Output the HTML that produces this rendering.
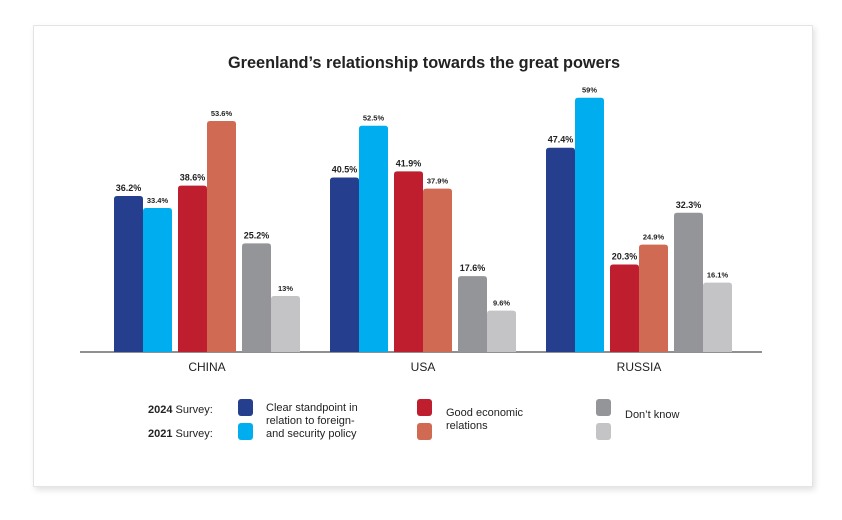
<!DOCTYPE html>
<html><head><meta charset="utf-8"><style>
body{margin:0;background:#fff;width:842px;height:520px;overflow:hidden;font-family:"Liberation Sans",sans-serif}
#card{position:absolute;left:33px;top:25px;width:778px;height:460px;background:#fff;border:1px solid #e4e4e4;box-shadow:2px 3px 6px rgba(0,0,0,0.12)}
</style></head><body>
<div id="card"></div>
<svg id="chart" width="842" height="520" style="position:absolute;left:0;top:0">
<text x="424" y="68" text-anchor="middle" font-size="16.3" font-weight="bold" fill="#222">Greenland’s relationship towards the great powers</text>
<line x1="80" y1="352" x2="762" y2="352" stroke="#222" stroke-width="1"/>
<g id="bars"></g>
<g font-size="11" fill="#222">
<text x="148" y="413"><tspan font-weight="bold">2024</tspan> Survey:</text>
<text x="148" y="437"><tspan font-weight="bold">2021</tspan> Survey:</text>
<rect x="238" y="399" width="15" height="17" rx="3" fill="#253f8e"/>
<rect x="238" y="423" width="15" height="17" rx="3" fill="#00aeef"/>
<text x="266" y="411">Clear standpoint in</text>
<text x="266" y="424">relation to foreign-</text>
<text x="266" y="437">and security policy</text>
<rect x="417" y="399" width="15" height="17" rx="3" fill="#be1e2d"/>
<rect x="417" y="423" width="15" height="17" rx="3" fill="#d06a52"/>
<text x="446" y="416">Good economic</text>
<text x="446" y="429">relations</text>
<rect x="596" y="399" width="15" height="17" rx="3" fill="#939598"/>
<rect x="596" y="423" width="15" height="17" rx="3" fill="#c4c4c6"/>
<text x="625" y="418">Don’t know</text>
</g>
</svg>
<script>
const categories=["CHINA","USA","RUSSIA"];
const clear2024=[36.2,40.5,47.4];
const clear2021=[33.4,52.5,59];
const econ2024=[38.6,41.9,20.3];
const econ2021=[53.6,37.9,24.9];
const dk2024=[25.2,17.6,32.3];
const dk2021=[13,9.6,16.1];
const series=[
 {name:"clear-2024",vals:clear2024,color:"#253f8e",big:true},
 {name:"clear-2021",vals:clear2021,color:"#00aeef",big:false},
 {name:"econ-2024",vals:econ2024,color:"#be1e2d",big:true},
 {name:"econ-2021",vals:econ2021,color:"#d06a52",big:false},
 {name:"dk-2024",vals:dk2024,color:"#939598",big:true},
 {name:"dk-2021",vals:dk2021,color:"#c4c4c6",big:false}];
const base=352,scale=4.31,bw=29;
function y(v){return base-v*scale;}
function groupX(i){return 114+i*216;}
function barX(s){return Math.floor(s/2)*64+(s%2)*29;}
const ns="http://www.w3.org/2000/svg",g=document.getElementById("bars");
function fmt(v){return v+"%";}
categories.forEach((c,i)=>{
 series.forEach((s,k)=>{
  const v=s.vals[i],x=groupX(i)+barX(k);
  const r=document.createElementNS(ns,"path");
  const t=y(v),rr=3;
  r.setAttribute("d",`M${x},${base}V${t+rr}Q${x},${t} ${x+rr},${t}H${x+bw-rr}Q${x+bw},${t} ${x+bw},${t+rr}V${base}Z`);
  r.setAttribute("fill",s.color);
  
  
  g.appendChild(r);
  const l=document.createElementNS(ns,"text");
  l.setAttribute("x",x+bw/2);l.setAttribute("y",t-5);
  l.setAttribute("text-anchor","middle");
  l.setAttribute("font-size",s.big?"9":"7.5");
  l.setAttribute("font-weight","bold");l.setAttribute("fill","#222");
  l.textContent=fmt(v);
  
  
  g.appendChild(l);
 });
 const ct=document.createElementNS(ns,"text");
 ct.setAttribute("x",groupX(i)+93);ct.setAttribute("y",371);
 ct.setAttribute("text-anchor","middle");ct.setAttribute("font-size","12");ct.setAttribute("fill","#222");
 ct.textContent=c;
 
 
 g.appendChild(ct);
});
</script>
</body></html>
